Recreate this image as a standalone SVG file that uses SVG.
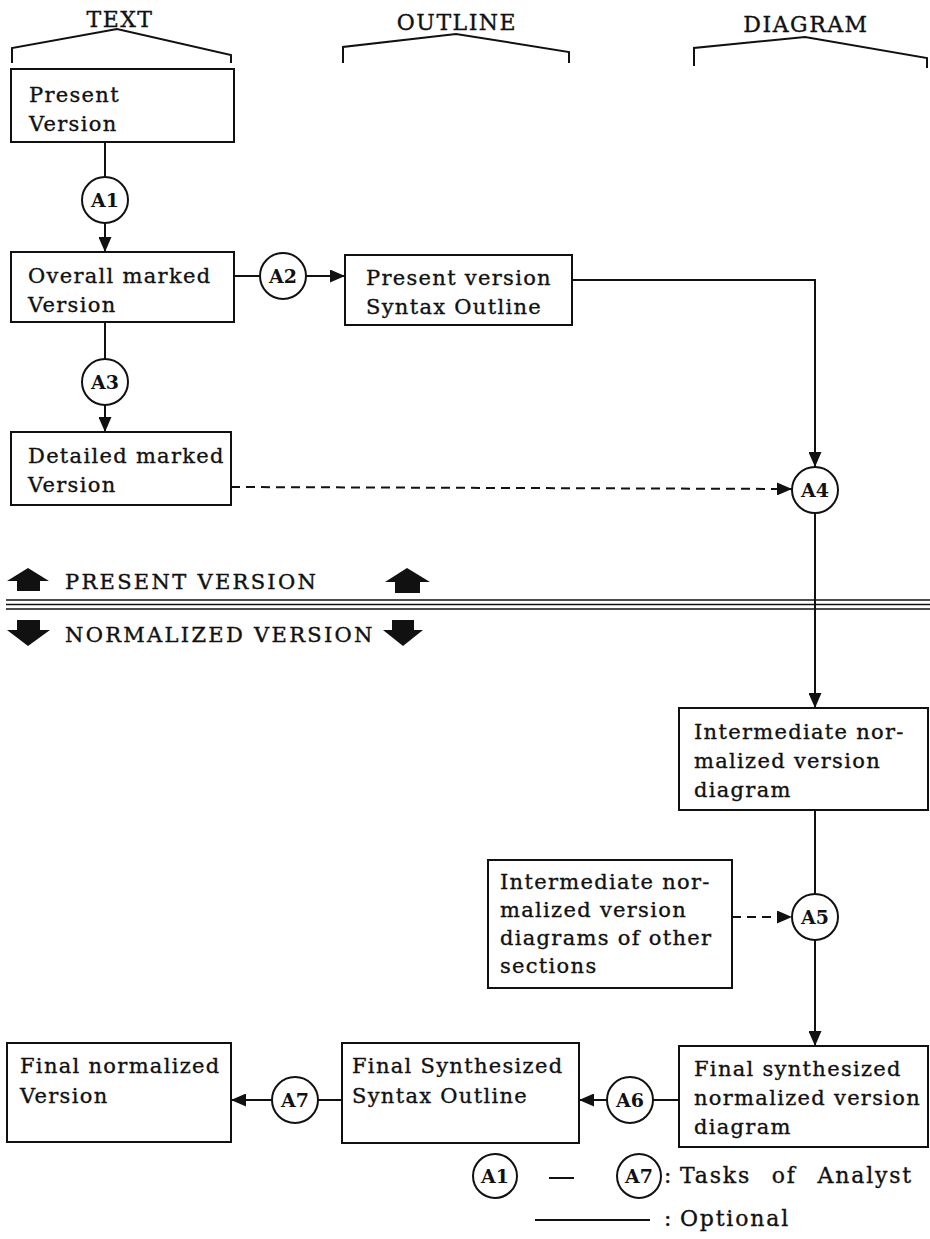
<svg xmlns="http://www.w3.org/2000/svg" width="930" height="1239" viewBox="0 0 930 1239">
<style>
.bg{fill:#fff}
.box{fill:#fff;stroke:#111;stroke-width:2}
.circ{fill:#fff;stroke:#111;stroke-width:2}
.t{font-family:"DejaVu Serif","Liberation Serif",serif;font-size:21px;letter-spacing:1.3px;fill:#111;stroke:#111;stroke-width:0.35}
.c{font-family:"DejaVu Serif","Liberation Serif",serif;font-size:19px;font-weight:bold;fill:#111;text-anchor:middle}
.h{font-family:"DejaVu Serif","Liberation Serif",serif;font-size:22px;letter-spacing:1.5px;fill:#111;stroke:#111;stroke-width:0.35;text-anchor:middle}
.band{font-family:"DejaVu Serif","Liberation Serif",serif;font-size:21px;letter-spacing:2.3px;fill:#111;stroke:#111;stroke-width:0.4}
.lg{font-family:"DejaVu Serif","Liberation Serif",serif;font-size:22px;letter-spacing:1.8px;word-spacing:12px;fill:#111;stroke:#111;stroke-width:0.35}
.ln{fill:none;stroke:#111;stroke-width:2}
.dash{fill:none;stroke:#111;stroke-width:2;stroke-dasharray:9 6}
.arr{marker-end:url(#ah)}
.icon{fill:#111}
</style>
<defs>
<marker id="ah" markerUnits="userSpaceOnUse" markerWidth="15" markerHeight="13" refX="15" refY="6.5" orient="auto">
<path d="M0,0 L15,6.5 L0,13 z" fill="#111"/>
</marker>
</defs>
<rect class="bg" x="0" y="0" width="930" height="1239"/>

<g id="headers">
<text class="h" x="120" y="27">TEXT</text>
<polyline class="ln" points="12,63 12,48 117,29 231,55 231,63"/>
<text class="h" x="457" y="30">OUTLINE</text>
<polyline class="ln" points="343,63 343,47 456,34 569,52 569,63"/>
<text class="h" x="806" y="32">DIAGRAM</text>
<polyline class="ln" points="694,66 694,48 805,37 927,58 927,68"/>
</g>

<g id="divider">
<polygon class="icon" points="28,568 49,581 40,581 40,591 17,591 17,581 7,581"/>
<text class="band" x="65" y="589">PRESENT VERSION</text>
<polygon class="icon" points="407,568 430,582 420,582 420,593 395,593 395,582 385,582"/>
<line class="ln" x1="6" y1="600" x2="930" y2="600" style="stroke-width:1.6"/>
<line class="ln" x1="6" y1="604.5" x2="930" y2="604.5" style="stroke-width:1.6"/>
<line class="ln" x1="6" y1="609" x2="930" y2="609" style="stroke-width:1.6"/>
<polygon class="icon" points="17,620 40,620 40,630 50,630 28,646 7,630 17,630"/>
<text class="band" x="65" y="642">NORMALIZED VERSION</text>
<polygon class="icon" points="392,620 414,620 414,630 423,630 403,646 383,630 392,630"/>
</g>

<g id="connectors">
<line class="ln" x1="105" y1="142" x2="105" y2="177"/>
<line class="ln arr" x1="105" y1="223" x2="105" y2="252"/>
<line class="ln" x1="234" y1="276" x2="260" y2="276"/>
<line class="ln arr" x1="306" y1="276" x2="345" y2="276"/>
<line class="ln" x1="105" y1="322" x2="105" y2="359"/>
<line class="ln arr" x1="105" y1="405" x2="105" y2="432"/>
<polyline class="ln arr" points="572,280 815,280 815,467"/>
<line class="dash arr" x1="231" y1="487" x2="792" y2="489"/>
<line class="ln arr" x1="815" y1="513" x2="815" y2="708"/>
<line class="ln" x1="815" y1="810" x2="815" y2="894"/>
<line class="dash arr" x1="732" y1="917" x2="792" y2="917"/>
<line class="ln arr" x1="815" y1="940" x2="815" y2="1046"/>
<line class="ln" x1="679" y1="1100" x2="653" y2="1100"/>
<line class="ln arr" x1="607" y1="1100" x2="579" y2="1100"/>
<line class="ln" x1="342" y1="1100" x2="318" y2="1100"/>
<line class="ln arr" x1="272" y1="1100" x2="231" y2="1100"/>
</g>

<g id="present-version">
<rect class="box" x="11" y="69" width="223" height="73"/>
<text class="t" x="29" y="102">Present</text>
<text class="t" x="29" y="131">Version</text>
</g>
<g id="overall-marked">
<rect class="box" x="11" y="252" width="223" height="70"/>
<text class="t" x="28" y="283">Overall marked</text>
<text class="t" x="28" y="312">Version</text>
</g>
<g id="detailed-marked">
<rect class="box" x="11" y="432" width="220" height="73"/>
<text class="t" x="28" y="463">Detailed marked</text>
<text class="t" x="28" y="492">Version</text>
</g>
<g id="syntax-outline">
<rect class="box" x="345" y="255" width="227" height="70"/>
<text class="t" x="366" y="285">Present version</text>
<text class="t" x="366" y="314">Syntax Outline</text>
</g>
<g id="intermediate">
<rect class="box" x="679" y="708" width="249" height="102"/>
<text class="t" x="694" y="739">Intermediate nor-</text>
<text class="t" x="694" y="768">malized version</text>
<text class="t" x="694" y="797">diagram</text>
</g>
<g id="other-sections">
<rect class="box" x="488" y="860" width="244" height="128"/>
<text class="t" x="500" y="889">Intermediate nor-</text>
<text class="t" x="500" y="917">malized version</text>
<text class="t" x="500" y="945">diagrams of other</text>
<text class="t" x="500" y="973">sections</text>
</g>
<g id="final-normalized">
<rect class="box" x="7" y="1043" width="224" height="99"/>
<text class="t" x="20" y="1073">Final normalized</text>
<text class="t" x="20" y="1103">Version</text>
</g>
<g id="final-synth-outline">
<rect class="box" x="342" y="1043" width="237" height="100"/>
<text class="t" x="352" y="1073">Final Synthesized</text>
<text class="t" x="352" y="1103">Syntax Outline</text>
</g>
<g id="final-synth-diagram">
<rect class="box" x="679" y="1046" width="249" height="101"/>
<text class="t" x="694" y="1076">Final synthesized</text>
<text class="t" x="694" y="1105">normalized version</text>
<text class="t" x="694" y="1134">diagram</text>
</g>

<g id="A1"><circle class="circ" cx="105" cy="200" r="23"/><text class="c" x="105" y="207">A1</text></g>
<g id="A2"><circle class="circ" cx="283" cy="276" r="23"/><text class="c" x="283" y="283">A2</text></g>
<g id="A3"><circle class="circ" cx="105" cy="382" r="23"/><text class="c" x="105" y="389">A3</text></g>
<g id="A4"><circle class="circ" cx="815" cy="490" r="23"/><text class="c" x="815" y="497">A4</text></g>
<g id="A5"><circle class="circ" cx="815" cy="917" r="23"/><text class="c" x="815" y="924">A5</text></g>
<g id="A6"><circle class="circ" cx="630" cy="1100" r="23"/><text class="c" x="630" y="1107">A6</text></g>
<g id="A7"><circle class="circ" cx="295" cy="1100" r="23"/><text class="c" x="295" y="1107">A7</text></g>

<g id="legend">
<circle class="circ" cx="495" cy="1176" r="22"/><text class="c" x="495" y="1183">A1</text>
<line class="ln" x1="549" y1="1178" x2="574" y2="1178"/>
<circle class="circ" cx="639" cy="1176" r="22"/><text class="c" x="639" y="1183">A7</text>
<text class="lg" x="664" y="1183">:</text>
<text class="lg" x="680" y="1183">Tasks of Analyst</text>
<line class="ln" x1="535" y1="1220" x2="650" y2="1220"/>
<text class="lg" x="664" y="1226">:</text>
<text class="lg" x="680" y="1226">Optional</text>
</g>
</svg>
